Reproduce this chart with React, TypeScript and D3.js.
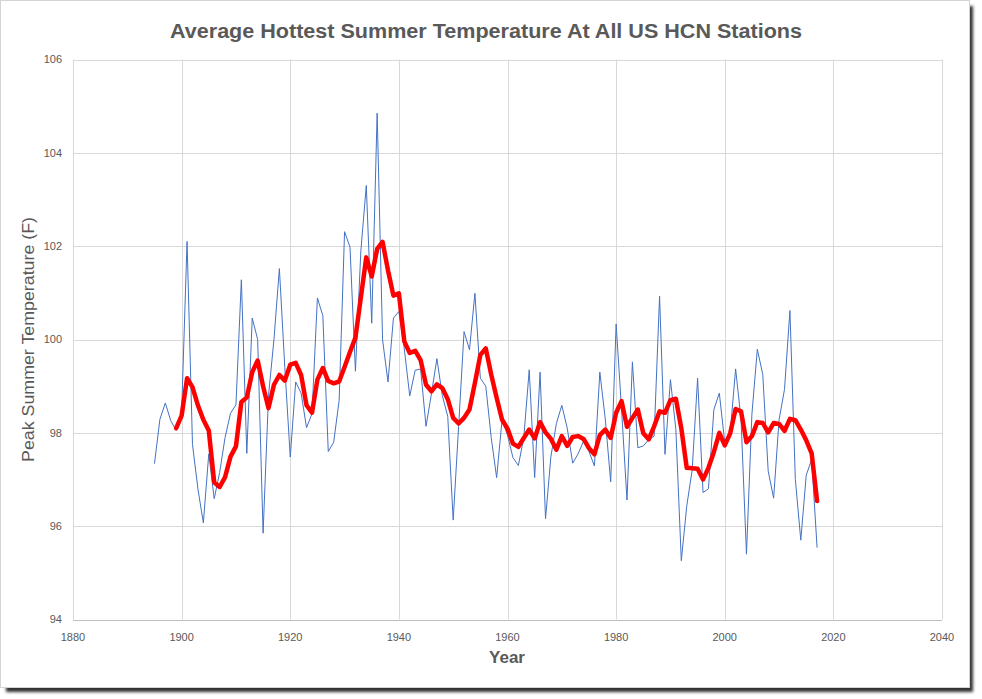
import React from "react";
import * as d3 from "d3";

// Annual peak summer temperature (°F), averaged over all US HCN stations
const firstYear = 1895;
const annualPeak: number[] = [
  97.34, 98.29, 98.64, 98.26, 98.05, 98.44, 102.1, 97.75, 96.8, 96.07,
  97.55, 96.59, 97.15, 97.9, 98.42, 98.6, 101.28, 97.56, 100.46, 100.0,
  95.85, 98.8, 100.0, 101.52, 99.4, 97.48, 99.09, 98.85, 98.11, 98.41,
  100.89, 100.51, 97.6, 97.8, 98.69, 102.31, 101.98, 99.32, 101.9, 103.3,
  100.35, 104.85, 99.99, 99.09, 100.46, 100.6, 99.8, 98.79, 99.34, 99.37,
  98.14, 98.84, 99.59, 98.8, 98.35, 96.13, 98.14, 100.17, 99.78, 100.99,
  99.17, 99.0, 97.9, 97.04, 98.28, 97.95, 97.47, 97.3, 97.9, 99.35,
  97.04, 99.3, 96.16, 97.5, 98.2, 98.59, 98.1, 97.35, 97.55, 97.82,
  97.6, 97.29, 99.3, 98.3, 96.95, 100.33, 98.5, 96.56, 99.52, 97.68,
  97.72, 97.85, 97.93, 100.93, 97.54, 99.14, 98.07, 95.26, 96.43, 97.2,
  99.17, 96.72, 96.8, 98.5, 98.85, 97.79, 98.0, 99.37, 98.29, 95.4,
  98.4, 99.79, 99.25, 97.18, 96.6, 98.28, 98.93, 100.62, 97.0, 95.7,
  97.09, 97.43, 95.54,
];

// Five-year trailing moving average, starting in 1899
const avgFirstYear = 1899;
const movingAvg: number[] = [
  98.1, 98.37, 99.17, 98.98, 98.59, 98.28, 98.05, 96.94, 96.84, 97.05,
  97.49, 97.71, 98.66, 98.76, 99.3, 99.55, 99.0, 98.53, 99.03, 99.24,
  99.12, 99.46, 99.5, 99.24, 98.59, 98.43, 99.14, 99.39, 99.11, 99.06,
  99.1, 99.41, 99.73, 100.04, 100.9, 101.76, 101.35, 101.94, 102.09, 101.48,
  100.94, 100.99, 99.96, 99.71, 99.76, 99.56, 99.03, 98.89, 99.04, 98.96,
  98.72, 98.32, 98.2, 98.32, 98.5, 99.07, 99.67, 99.81, 99.25, 98.75,
  98.28, 98.09, 97.77, 97.7, 97.89, 98.07, 97.88, 98.23, 98.01, 97.87,
  97.64, 97.93, 97.72, 97.91, 97.93, 97.87, 97.67, 97.54, 97.95, 98.07,
  97.89, 98.43, 98.68, 98.13, 98.32, 98.5, 97.99, 97.86, 98.14, 98.46,
  98.43, 98.7, 98.73, 98.1, 97.25, 97.24, 97.23, 97.0, 97.25, 97.59,
  98.0, 97.73, 97.99, 98.51, 98.46, 97.8, 97.93, 98.23, 98.21, 98.01,
  98.21, 98.19, 98.04, 98.3, 98.27, 98.07, 97.84, 97.56, 96.54,
];

const xTicks = [1880, 1900, 1920, 1940, 1960, 1980, 2000, 2020, 2040];
const yTicks = [94, 96, 98, 100, 102, 104, 106];

const chartTitle = "Average Hottest Summer Temperature At All US HCN Stations";
const xTitle = "Year";
const yTitle = "Peak Summer Temperature (F)";

const W = 982;
const H = 699;
const plot = { left: 73, right: 942, top: 59.5, bottom: 619.5 };
const textColor = "#595959";
const font = "'Liberation Sans', Arial, sans-serif";

export default function App() {
  const x = d3.scaleLinear().domain([1880, 2040]).range([plot.left, plot.right]);
  const y = d3.scaleLinear().domain([94, 106]).range([plot.bottom, plot.top]);

  const annual = annualPeak.map((v, i) => [firstYear + i, v] as [number, number]);
  const avg = movingAvg.map((v, i) => [avgFirstYear + i, v] as [number, number]);

  const line = d3
    .line<[number, number]>()
    .x((d) => x(d[0]))
    .y((d) => y(d[1]));

  return (
    <svg
      width={W}
      height={H}
      style={{ position: "absolute", left: 0, top: 0, display: "block" }}
      fontFamily={font}
    >
      <defs>
        <filter id="cardShadow" x="-5%" y="-5%" width="110%" height="110%">
          <feGaussianBlur stdDeviation="1.8" />
        </filter>
      </defs>
      <rect x={0} y={0} width={W} height={H} fill="#ffffff" />
      {/* card with drop shadow */}
      <rect x={6} y={6} width={967} height={686} fill="#333333" filter="url(#cardShadow)" />
      <rect x={0.5} y={0.5} width={969} height={687} fill="#ffffff" stroke="#d4d4d4" strokeWidth={1} />

      {/* gridlines */}
      {yTicks.map((t) => (
        <line
          key={"gy" + t}
          x1={plot.left}
          x2={plot.right}
          y1={Math.round(y(t)) + 0.5}
          y2={Math.round(y(t)) + 0.5}
          stroke={t === 94 ? "#bfbfbf" : "#d9d9d9"}
          strokeWidth={1}
        />
      ))}
      {xTicks.map((t) => (
        <line
          key={"gx" + t}
          x1={Math.round(x(t)) + 0.5}
          x2={Math.round(x(t)) + 0.5}
          y1={plot.top}
          y2={plot.bottom}
          stroke="#d9d9d9"
          strokeWidth={1}
        />
      ))}

      {/* tick labels */}
      {yTicks.map((t) => (
        <text
          key={"ly" + t}
          x={62}
          y={y(t)}
          dy="0.35em"
          textAnchor="end"
          fontSize={11}
          fill={textColor}
        >
          {t}
        </text>
      ))}
      {xTicks.map((t) => (
        <text
          key={"lx" + t}
          x={x(t)}
          y={641}
          textAnchor="middle"
          fontSize={11}
          fill={textColor}
        >
          {t}
        </text>
      ))}

      {/* series */}
      <path d={line(annual) ?? ""} fill="none" stroke="#4472C4" strokeWidth={1} strokeLinejoin="round" />
      <path
        d={line(avg) ?? ""}
        fill="none"
        stroke="#FF0000"
        strokeWidth={4.5}
        strokeLinejoin="round"
        strokeLinecap="round"
      />

      {/* titles */}
      <text
        x={486}
        y={38}
        textAnchor="middle"
        fontSize={20}
        fontWeight="bold"
        fill={textColor}
        textLength={632}
        lengthAdjust="spacingAndGlyphs"
      >
        {chartTitle}
      </text>
      <text x={507} y={663} textAnchor="middle" fontSize={17} fontWeight="bold" fill={textColor}>
        {xTitle}
      </text>
      <text
        transform={`translate(34, ${(plot.top + plot.bottom) / 2}) rotate(-90)`}
        textAnchor="middle"
        fontSize={16}
        fill={textColor}
        textLength={245}
        lengthAdjust="spacingAndGlyphs"
      >
        {yTitle}
      </text>
    </svg>
  );
}
